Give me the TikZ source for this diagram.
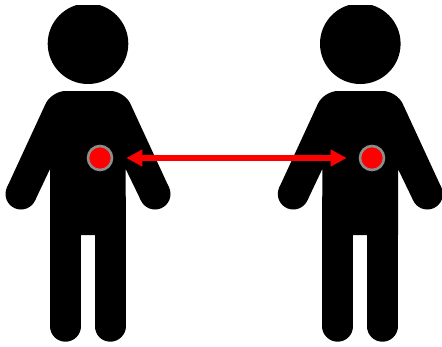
\documentclass[tikz,border=0pt]{standalone}
\usetikzlibrary{arrows.meta}
\definecolor{ringgray}{HTML}{8C8C8C}
\tikzset{
	limb/.style = {line width = 31pt, line cap = round},
	organ/.style = {circle, fill = red, draw = ringgray, line width = 2.6pt, inner sep = 0pt, minimum size = 24pt},
	link/.style = {red, line width = 6pt, {Triangle[length=16pt,width=16pt]}-{Triangle[length=16pt,width=16pt]}}
}
\begin{document}
\begin{tikzpicture}[x=1pt, y=-1pt]
			\useasboundingbox (0, 0) rectangle (442, 346);
			\clip (0, 5.7) rectangle (442, 346);

			\foreach \dx/\side in {0/left, 272.3/right} {
				\begin{scope}[xshift=\dx pt]
					\coordinate (shoulderL) at (51.5, 91);
					\coordinate (shoulderR) at (124.5, 91);
					\coordinate (armpitL) at (50, 169);
					\coordinate (armpitR) at (125.7, 169);
					\coordinate (handL) at (21, 194);
					\coordinate (handR) at (155, 194);
					\coordinate (outerL) at (6.9, 187.6);
					\coordinate (outerR) at (169.1, 187.6);
					\coordinate (innerL) at (35.1, 200.4);
					\coordinate (innerR) at (140.9, 200.4);

					\fill (88, 43.7) circle (40.3);
					\fill (outerL) [rounded corners = 14pt] -- (shoulderL) -- (shoulderR) [sharp corners] -- (outerR) -- (innerR) -- (armpitR) -- (125.7, 235) -- (50, 235) -- (armpitL) -- (innerL) -- cycle;
					\fill (handL) circle (15.5);
					\fill (handR) circle (15.5);
					\draw[limb] (65.5, 200) -- (65.5, 326.2);
					\draw[limb] (110, 200) -- (110, 326.2);
				\end{scope}
			}

			\node[organ] (organleft) at (100, 158) {};
			\node[organ] (organright) at (372, 158) {};
			\draw[link, shorten <= 13pt, shorten >= 12pt] (organleft) -- (organright);

		\end{tikzpicture}
\end{document}
